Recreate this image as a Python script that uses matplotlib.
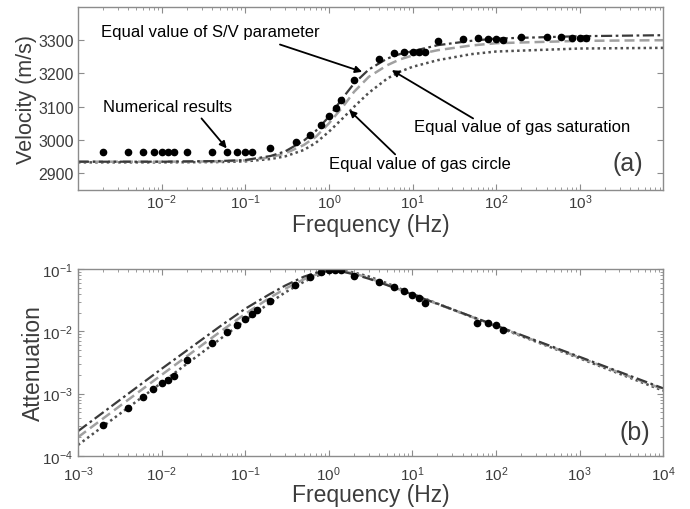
import matplotlib
matplotlib.use("Agg")
import matplotlib.pyplot as plt
import numpy as np

plt.rcParams['font.family'] = ['Liberation Sans', 'DejaVu Sans']
plt.rcParams['mathtext.fontset'] = 'custom'
plt.rcParams['mathtext.rm'] = 'Liberation Sans'
plt.rcParams['mathtext.it'] = 'Liberation Sans:italic'
plt.rcParams['mathtext.bf'] = 'Liberation Sans:bold'

# ---- (a) velocity ----
f_curve_v = [1e-3, 1e-2, 0.05, 0.1, 0.2, 0.3, 0.5, 0.7, 1, 1.5, 2, 3, 5, 7, 10, 20, 50, 100, 1000, 1e4]
v_sv = [2935, 2935, 2937, 2940, 2952, 2966, 2998, 3028, 3070, 3130, 3170, 3212, 3245, 3258, 3267, 3285, 3298, 3305, 3312, 3315]
v_sat = [2935, 2935, 2936, 2939, 2948, 2960, 2985, 3010, 3050, 3103, 3145, 3190, 3225, 3242, 3254, 3270, 3284, 3291, 3298, 3300]
v_circ = [2933, 2933, 2934, 2936, 2943, 2951, 2970, 2992, 3025, 3068, 3100, 3142, 3185, 3205, 3220, 3240, 3258, 3266, 3275, 3277]

f_num_v = [0.002, 0.004, 0.006, 0.008, 0.01, 0.012, 0.014, 0.02, 0.04, 0.06, 0.08, 0.1, 0.12,
           0.2, 0.4, 0.6, 0.8, 1, 1.2, 1.4, 2, 4, 6, 8, 10, 12, 14, 20, 40, 60, 80, 100, 120,
           200, 400, 600, 800, 1000, 1200]
v_num = [2963, 2963, 2963, 2963, 2963, 2963, 2963, 2963, 2963, 2963, 2963, 2963, 2963,
         2976, 2993, 3015, 3045, 3072, 3097, 3120, 3180, 3243, 3262, 3266, 3266, 3266, 3264, 3298, 3305, 3307, 3305, 3303, 3300,
         3310, 3309, 3309, 3308, 3308, 3308]

# ---- (b) attenuation ----
f_curve_q = [1e-3, 1e-2, 0.05, 0.1, 0.2, 0.3, 0.5, 0.7, 1, 1.5, 2, 3, 5, 10, 100, 1000, 1e4]
q_sv = [2.5e-4, 2.5e-3, 1.2e-2, 2.3e-2, 4.0e-2, 5.4e-2, 7.5e-2, 8.7e-2, 9.3e-2, 9.0e-2, 8.2e-2, 7.0e-2, 5.5e-2, 3.9e-2, 1.24e-2, 3.9e-3, 1.22e-3]
q_sat = [2.0e-4, 2.0e-3, 9.8e-3, 1.9e-2, 3.5e-2, 4.8e-2, 6.8e-2, 8.1e-2, 9.0e-2, 9.1e-2, 8.5e-2, 7.2e-2, 5.6e-2, 3.9e-2, 1.22e-2, 3.8e-3, 1.18e-3]
q_circ = [1.5e-4, 1.5e-3, 7.5e-3, 1.5e-2, 2.9e-2, 4.2e-2, 6.2e-2, 7.7e-2, 8.8e-2, 9.3e-2, 8.8e-2, 7.6e-2, 5.9e-2, 4.0e-2, 1.2e-2, 3.7e-3, 1.12e-3]

f_num_q = [0.002, 0.004, 0.006, 0.008, 0.01, 0.012, 0.014, 0.02, 0.04, 0.06, 0.08, 0.1, 0.12, 0.14,
           0.2, 0.4, 0.6, 0.8, 1, 1.2, 1.4, 2, 4, 6, 8, 10, 12, 14, 60, 80, 100, 120]
q_num = [3.1e-4, 5.9e-4, 8.9e-4, 1.19e-3, 1.47e-3, 1.67e-3, 1.94e-3, 3.5e-3, 6.4e-3, 9.6e-3, 1.26e-2, 1.58e-2, 1.9e-2, 2.2e-2,
         3.1e-2, 5.6e-2, 7.5e-2, 8.8e-2, 9.6e-2, 9.7e-2, 9.7e-2, 7.8e-2, 6.3e-2, 5.1e-2, 4.5e-2, 3.87e-2, 3.4e-2, 2.85e-2,
         1.36e-2, 1.36e-2, 1.28e-2, 1.05e-2]

frame_c = '#8c8c8c'
tick_c = '#3c3c3c'
dd_style = dict(color='#3a3a3a', lw=1.6, ls=(0, (5, 1.6, 1.2, 1.6)))
da_style = dict(color='#a0a0a0', lw=1.8, ls=(0, (4, 2)))
do_style = dict(color='#505050', lw=1.8, ls=(0, (1, 1.3)))

fig = plt.figure(figsize=(6.9, 5.1), dpi=100)
ax1 = fig.add_axes([0.113, 0.6255, 0.848, 0.359])
ax2 = fig.add_axes([0.113, 0.1039, 0.848, 0.3667])

for ax in (ax1, ax2):
    ax.set_xscale('log')
    for s in ax.spines.values():
        s.set_color(frame_c)
        s.set_linewidth(1.0)
    ax.tick_params(which='both', direction='in', top=True, right=True, color=frame_c,
                   labelcolor=tick_c, labelsize=11)
    ax.tick_params(which='major', length=4)
    ax.tick_params(which='minor', length=2)

# top panel
ax1.plot(f_curve_v, v_circ, **do_style)
ax1.plot(f_curve_v, v_sat, **da_style)
ax1.plot(f_curve_v, v_sv, **dd_style)
ax1.plot(f_num_v, v_num, 'o', color='black', ms=4.5, mec='black')
ax1.set_xlim(1e-3, 9.9e3)
ax1.set_ylim(2850, 3400)
ax1.set_xticks([1e-2, 1e-1, 1e0, 1e1, 1e2, 1e3])
ax1.set_yticks([2900, 3000, 3100, 3200, 3300])
ax1.tick_params(axis='y', labelsize=11.5, pad=3)
ax1.tick_params(axis='x', which='major', pad=2)
ax1.set_ylabel('Velocity (m/s)', fontsize=15.5, color=tick_c, labelpad=1)
ax1.set_xlabel('Frequency (Hz)', fontsize=16.5, color=tick_c, labelpad=1)
ax1.text(0.966, 0.15, '(a)', transform=ax1.transAxes, fontsize=18, color=tick_c,
         ha='right', va='center')

txt = dict(fontsize=12, color='black', va='center', ha='left')
arr = dict(arrowstyle='-|>', color='black', lw=1.3, mutation_scale=10, shrinkA=0, shrinkB=0)
ax1.text(0.0019, 3326, 'Equal value of S/V parameter', **txt)
ax1.annotate('', xy=(2.5, 3205), xytext=(0.26, 3287), arrowprops=arr)
ax1.text(0.002, 3100, 'Numerical results', **txt)
ax1.annotate('', xy=(0.06, 2975), xytext=(0.03, 3065), arrowprops=arr)
ax1.text(10.3, 3040, 'Equal value of gas saturation', **txt)
ax1.annotate('', xy=(5.65, 3210), xytext=(53, 3065), arrowprops=arr)
ax1.text(0.99, 2930, 'Equal value of gas circle', **txt)
ax1.annotate('', xy=(1.75, 3090), xytext=(6.2, 2957), arrowprops=arr)

# bottom panel
ax2.set_yscale('log')
ax2.plot(f_curve_q, q_circ, **do_style)
ax2.plot(f_curve_q, q_sat, **da_style)
ax2.plot(f_curve_q, q_sv, **dd_style)
ax2.plot(f_num_q, q_num, 'o', color='black', ms=4.5, mec='black')
ax2.set_xlim(1e-3, 1e4)
ax2.set_ylim(1e-4, 1e-1)
ax2.set_xticks([1e-3, 1e-2, 1e-1, 1e0, 1e1, 1e2, 1e3, 1e4])
ax2.tick_params(axis='x', which='major', pad=6)
ax2.set_ylabel('Attenuation', fontsize=16.5, color=tick_c, labelpad=-2)
ax2.set_xlabel('Frequency (Hz)', fontsize=16.5, color=tick_c, labelpad=0)
ax2.text(0.978, 0.127, '(b)', transform=ax2.transAxes, fontsize=18, color=tick_c,
         ha='right', va='center')

fig.savefig('out.png', dpi=100)
